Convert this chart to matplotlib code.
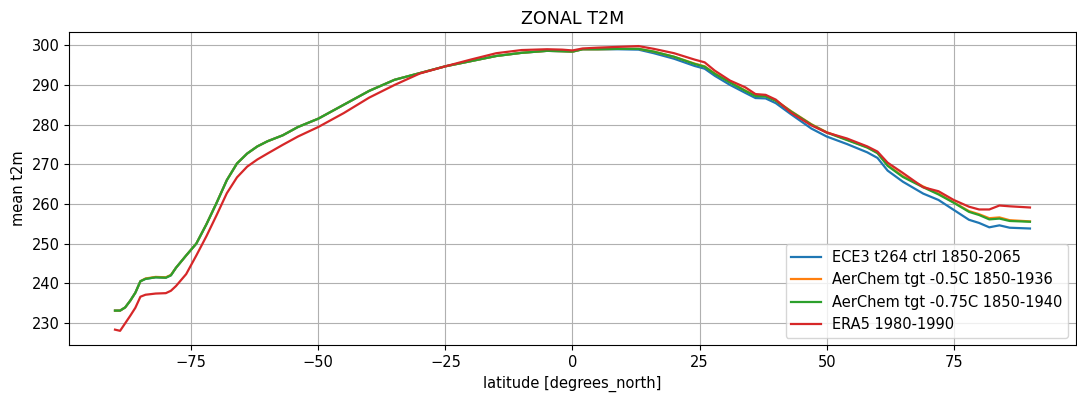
import numpy as np
import matplotlib
matplotlib.use("Agg")
from matplotlib import pyplot as plt

# latitudes (degrees north)
lat = [-90, -89, -88, -87, -86, -85, -84, -82, -80, -79, -78, -76, -74, -72, -70,
       -68, -66, -64, -62, -60, -57, -54, -50, -45, -40, -35, -30, -25, -20, -15,
       -10, -5, -2, 0, 2, 5, 9, 13, 16, 20, 24, 26, 28, 31, 34, 36, 38, 40, 43,
       47, 50, 54, 58, 60, 62, 65, 69, 72, 75, 78, 80, 82, 84, 86, 90]

# zonal mean t2m [K]
ece3_ctrl = [233.1, 233.1, 233.9, 235.6, 237.6, 240.5, 241.1, 241.5, 241.4, 242.0, 243.9,
             247.0, 250.0, 254.9, 260.3, 266.0, 270.2, 272.7, 274.5, 275.8, 277.3, 279.4,
             281.5, 285.0, 288.5, 291.3, 293.0, 294.7, 296.0, 297.3, 298.1, 298.6, 298.5,
             298.4, 299.0, 299.0, 299.0, 298.9, 298.0, 296.6, 294.8, 294.1, 292.3, 290.0,
             288.0, 286.7, 286.6, 285.4, 282.6, 279.0, 277.0, 275.1, 273.0, 271.6, 268.4,
             265.6, 262.6, 261.0, 258.5, 256.0, 255.2, 254.1, 254.6, 254.0, 253.8]

aerchem_05 = [233.1, 233.1, 233.9, 235.6, 237.6, 240.5, 241.2, 241.6, 241.5, 242.1, 243.9,
              247.0, 250.0, 254.9, 260.3, 266.0, 270.2, 272.7, 274.5, 275.8, 277.3, 279.4,
              281.5, 285.0, 288.5, 291.3, 293.0, 294.7, 296.0, 297.3, 298.1, 298.6, 298.5,
              298.4, 299.0, 299.0, 299.1, 299.1, 298.4, 297.1, 295.4, 294.7, 292.9, 290.7,
              288.6, 287.3, 287.2, 286.1, 283.4, 280.1, 278.1, 276.2, 274.3, 272.9, 269.8,
              267.0, 264.4, 262.6, 260.4, 258.2, 257.4, 256.4, 256.6, 255.9, 255.6]

aerchem_075 = [233.1, 233.1, 233.9, 235.6, 237.6, 240.5, 241.1, 241.5, 241.4, 242.0, 243.9,
               247.0, 250.0, 254.9, 260.3, 266.0, 270.2, 272.7, 274.5, 275.8, 277.3, 279.4,
               281.5, 285.0, 288.5, 291.3, 293.0, 294.7, 296.0, 297.3, 298.1, 298.6, 298.5,
               298.4, 299.0, 299.0, 299.1, 299.1, 298.4, 297.1, 295.3, 294.6, 292.8, 290.6,
               288.5, 287.2, 287.1, 286.0, 283.3, 280.0, 278.0, 276.1, 274.2, 272.8, 269.6,
               266.8, 264.2, 262.4, 260.3, 258.0, 257.2, 256.1, 256.3, 255.7, 255.5]

era5 = [228.3, 228.0, 229.9, 231.8, 233.8, 236.6, 237.1, 237.4, 237.5, 238.1, 239.3,
        242.3, 247.0, 251.9, 257.2, 262.7, 266.7, 269.4, 271.2, 272.7, 274.9, 277.0,
        279.4, 282.9, 286.8, 290.0, 292.9, 294.7, 296.4, 298.0, 298.8, 299.0, 298.9,
        298.7, 299.2, 299.4, 299.6, 299.8, 299.1, 298.0, 296.4, 295.7, 293.6, 291.1,
        289.4, 287.7, 287.5, 286.3, 283.0, 279.8, 278.0, 276.5, 274.5, 273.2, 270.4,
        267.8, 264.2, 263.2, 261.0, 259.3, 258.6, 258.6, 259.6, 259.4, 259.1]

labels = ["ECE3 t264 ctrl 1850-2065",
          "AerChem tgt -0.5C 1850-1936",
          "AerChem tgt -0.75C 1850-1940",
          "ERA5 1980-1990"]

plt.rcParams['font.size'] = 10.5
plt.rcParams['lines.linewidth'] = 1.6

fig = plt.figure(figsize=(10.77, 3.98), dpi=100)
ax = fig.add_axes([0.0643, 0.133, 0.9345, 0.787])

for series, lab in zip([ece3_ctrl, aerchem_05, aerchem_075, era5], labels):
    ax.plot(lat, series, label=lab)

ax.set_title("ZONAL T2M")
ax.set_xlabel("latitude [degrees_north]")
ax.set_ylabel("mean t2m")
ax.grid(True)
ax.legend(loc="lower right")

fig.savefig("out.png", dpi=100)
